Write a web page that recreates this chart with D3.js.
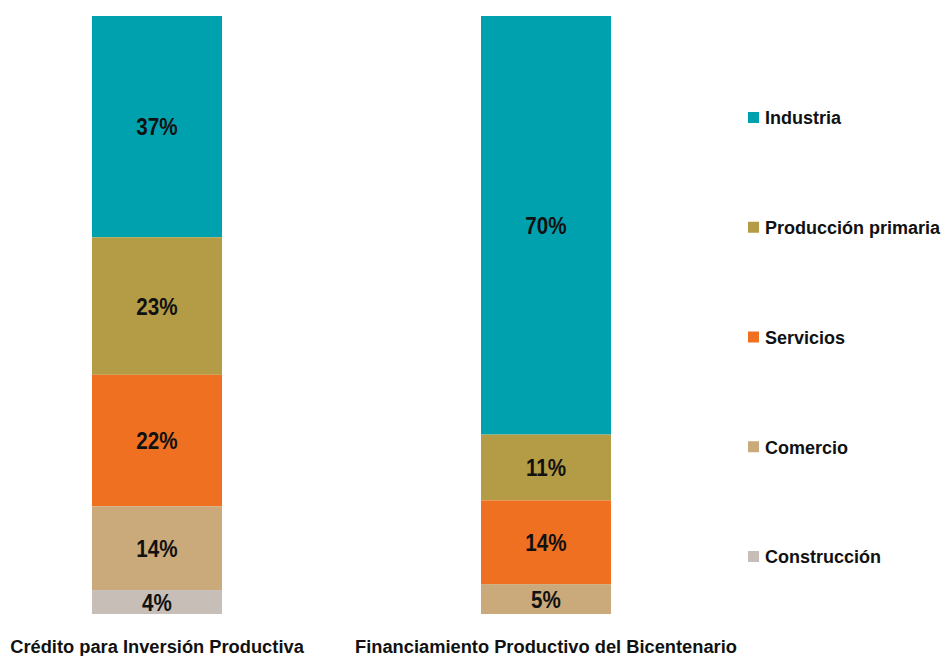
<!DOCTYPE html>
<html>
<head>
<meta charset="utf-8">
<script src="https://cdn.jsdelivr.net/npm/d3@7"></script>
<style>
  body { margin: 0; background: #fff; }
  svg text { font-family: "Liberation Sans", Arial, sans-serif; font-weight: bold; fill: #111; }
</style>
</head>
<body>
<script>
const programs = ["Crédito para Inversión Productiva", "Financiamiento Productivo del Bicentenario"];
const sectors = ["Industria", "Producción primaria", "Servicios", "Comercio", "Construcción"];
const creditoValues = [37, 23, 22, 14, 4];
const bicentenarioValues = [70, 11, 14, 5, 0];
const sectorColors = ["#00A1AF", "#B39C45", "#F07022", "#CAAA7B", "#C7BEB8"];

const width = 945,
  height = 656;

const svg = d3.select("body")
  .append("svg")
  .attr("width", width)
  .attr("height", height);

const rows = programs.map((p, i) => {
  const vals = i === 0 ? creditoValues : bicentenarioValues;
  const row = { program: p };
  sectors.forEach((s, j) => (row[s] = vals[j]));
  return row;
});

const series = d3.stack().keys(sectors)(rows);

const x = d3.scaleBand()
  .domain(programs)
  .range([92, 611])
  .paddingInner(0.6658)
  .paddingOuter(0);

// first sector at the top
const y = d3.scaleLinear().domain([0, 100]).range([16, 614]);

const color = d3.scaleOrdinal().domain(sectors).range(sectorColors);

const layer = svg.selectAll("g.layer")
  .data(series)
  .enter()
  .append("g")
  .attr("class", "layer")
  .attr("fill", d => color(d.key));

layer.selectAll("rect")
  .data(d => d)
  .enter()
  .append("rect")
  .attr("x", d => x(d.data.program))
  .attr("y", d => y(d[0]))
  .attr("width", x.bandwidth())
  .attr("height", d => y(d[1]) - y(d[0]));

layer.selectAll("text")
  .data(d => d.filter(v => v[1] - v[0] > 0))
  .enter()
  .append("text")
  .attr("transform", d =>
    `translate(${x(d.data.program) + x.bandwidth() / 2}, ${(y(d[0]) + y(d[1])) / 2}) scale(0.86, 1)`)
  .attr("dy", "0.36em")
  .attr("text-anchor", "middle")
  .style("font-size", "24px")
  .text(d => (d[1] - d[0]) + "%");

// category labels under bars
svg.selectAll("text.cat")
  .data(programs)
  .enter()
  .append("text")
  .attr("class", "cat")
  .attr("x", d => x(d) + x.bandwidth() / 2)
  .attr("y", 653)
  .attr("text-anchor", "middle")
  .style("font-size", "18.3px")
  .text(d => d);

// legend
const legendY = d3.scalePoint().domain(sectors).range([118, 557]);

const legend = svg.append("g")
  .selectAll("g")
  .data(sectors)
  .enter()
  .append("g")
  .attr("transform", d => `translate(748, ${legendY(d)})`);

legend.append("rect")
  .attr("y", -6)
  .attr("width", 11)
  .attr("height", 11)
  .attr("fill", d => color(d));

legend.append("text")
  .attr("x", 17)
  .attr("dy", "0.36em")
  .style("font-size", "18px")
  .text(d => d);
</script>
</body>
</html>
